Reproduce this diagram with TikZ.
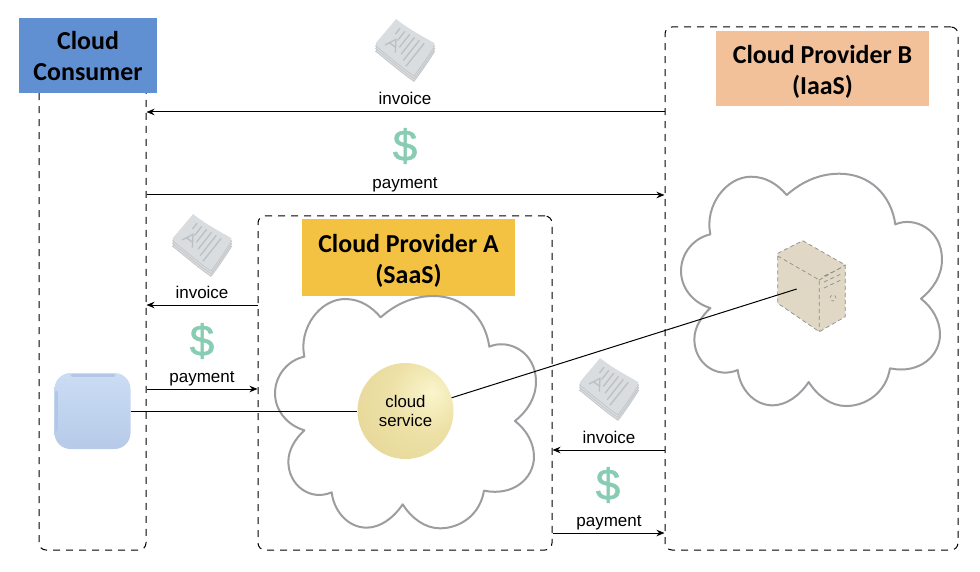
\documentclass[tikz,border=0pt]{standalone}
\usepackage{fontspec}
\setmainfont{Liberation Sans}
\newfontfamily\titlefont{Carlito}
\newfontfamily\dollarfont[FakeBold=1.2]{Liberation Sans}
\usetikzlibrary{arrows.meta}

\definecolor{consumerblue}{HTML}{6190D2}
\definecolor{providerorange}{HTML}{F2C099}
\definecolor{provideryellow}{HTML}{F4C242}
\definecolor{cloudgrey}{HTML}{9C9DA1}
\definecolor{dollargreen}{HTML}{88CDB3}
\definecolor{servertan}{HTML}{E0D8C4}
\definecolor{sheetgrey}{HTML}{DADDDF}
\definecolor{sheetedge}{HTML}{C4C8CB}
\definecolor{sheetink}{HTML}{BCC0C3}
\definecolor{devicetop}{HTML}{CBDDF4}
\definecolor{devicebottom}{HTML}{B6CAE9}
\definecolor{devicelip}{HTML}{B3C6E8}

\pgfdeclareradialshading{serviceball}{\pgfpoint{14bp}{10bp}}{
	rgb(0bp)=(0.98,0.96,0.80);
	rgb(20bp)=(0.93,0.88,0.65);
	rgb(50bp)=(0.89,0.83,0.57);
	rgb(100bp)=(0.88,0.81,0.54)}

\newcommand{\titledrop}[1]{\rule{0pt}{#1pt}}

\tikzset{
	lifeline/.style={draw=black,line width=1pt,dash pattern=on 7pt off 6pt,rounded corners=7pt,fill=none},
	titlebox/.style={font=\titlefont\bfseries\fontsize{25.9}{31}\selectfont,align=center,text=black,inner sep=0pt},
	msglabel/.style={font=\fontsize{17}{20}\selectfont,inner sep=0pt},
	dollar/.style={font=\dollarfont\fontsize{44}{44}\selectfont,text=dollargreen,inner sep=0pt},
	cloudshape/.pic={
		\draw[scale=0.3333,shift={(-450,-375)},cloudgrey,line width=2pt,fill=white,line join=round]
			(133,215) .. controls (115,130) and (180,42) .. (255,42) .. controls (300,42) and (335,65) .. (362,97)
			.. controls (415,50) and (470,33) .. (520,33) .. controls (610,33) and (675,95) .. (688,185)
			.. controls (745,160) and (828,200) .. (828,290) .. controls (828,340) and (800,380) .. (765,408)
			.. controls (800,435) and (822,475) .. (822,515) .. controls (822,580) and (760,635) .. (672,617)
			.. controls (660,690) and (600,730) .. (540,730) .. controls (495,730) and (455,700) .. (428,658)
			.. controls (400,700) and (360,728) .. (320,728) .. controls (265,728) and (222,680) .. (215,622)
			.. controls (150,650) and (85,600) .. (85,530) .. controls (85,495) and (105,462) .. (133,436)
			.. controls (80,420) and (45,375) .. (45,325) .. controls (45,270) and (85,225) .. (133,215) -- cycle;
	},
	invoicestack/.pic={
		\begin{scope}[scale=0.3333,shift={(-135,-120)}]
			\foreach \d in {24,16,8}
				\draw[sheetedge,fill=sheetgrey,line width=0.8pt,yshift=-\d pt] (47,100) .. controls (70,72) and (90,50) .. (108,27)
					.. controls (150,60) and (190,80) .. (224,100) .. controls (205,130) and (185,160) .. (162,190)
					.. controls (125,165) and (85,130) .. (47,100) -- cycle;
			\fill[sheetgrey] (47,100) .. controls (70,72) and (90,50) .. (108,27)
				.. controls (150,60) and (190,80) .. (224,100) .. controls (205,130) and (185,160) .. (162,190)
				.. controls (125,165) and (85,130) .. (47,100) -- cycle;
			\foreach \i/\l in {0/22,1/35,2/50,3/65,4/78,5/88}
				\draw[sheetink,line width=1.3pt] (120+\i*14.5,55+\i*9) -- ++(-0.62*\l,0.78*\l);
			\draw[sheetink,line width=1.3pt] (75,105) -- (108,88) -- (106,128) (88,98) -- (107,112);
		\end{scope}
	}
}

\begin{document}
\begin{tikzpicture}[x=1pt,y=-1pt]
		\useasboundingbox (0,0) rectangle (980,572);

		\begin{scope}[every node/.style={lifeline}]
		    \node[minimum width=107pt,minimum height=490pt] (consumer) at (92.5,305) {};
		    \node[minimum width=294pt,minimum height=334pt] (provA) at (405,383) {};
		    \node[minimum width=293pt,minimum height=523pt] (provB) at (811.5,288.5) {};
		\end{scope}

		\node[titlebox,fill=consumerblue,minimum width=138pt,minimum height=75pt] (consumerT) at (88,55.5) {\titledrop{19}Cloud\\Consumer};
		\node[titlebox,fill=providerorange,minimum width=213pt,minimum height=75pt] (provBT) at (822.5,68.5) {\titledrop{24}Cloud Provider B\\(IaaS)};
		\node[titlebox,fill=provideryellow,minimum width=213pt,minimum height=77pt] (provAT) at (408.5,257.5) {\titledrop{25}Cloud Provider A\\(SaaS)};

		\pic at (410,410) {cloudshape};
		\pic at (816,287.7) {cloudshape};

		\pic at (405,50) {invoicestack};
		\pic at (202,245) {invoicestack};
		\pic at (609,389) {invoicestack};

		\begin{scope}[every node/.style={dollar}]
		    \node (dollar1) at (405,146) {\$};
		    \node (dollar2) at (202,341) {\$};
		    \node (dollar3) at (608,485) {\$};
		\end{scope}

		\begin{scope}[every node/.style={msglabel}]
		    \node (invoice1) at (405,98) {invoice};
		    \node (payment1) at (405,185) {payment};
		    \node (invoice2) at (202,292) {invoice};
		    \node (payment2) at (202,379) {payment};
		    \node (invoice3) at (609,437) {invoice};
		    \node (payment3) at (609,523) {payment};
		\end{scope}

		\fill[servertan] (777.7,253.3) -- (802.7,240.7) -- (845.3,265) -- (845.3,316.7) -- (819.3,331.7) -- (777.7,303.3) -- cycle;
		\draw[black!45,line width=0.7pt,dash pattern=on 4pt off 3pt] (777.7,253.3) -- (802.7,240.7) -- (845.3,265) -- (845.3,316.7) -- (819.3,331.7) -- (777.7,303.3) -- cycle
			(777.7,256) -- (819.3,280) -- (819.3,331.7) (819.3,280) -- (845.3,265)
			(824,276) -- (841,268) (824,282) -- (841,274) (824,288) -- (841,280);
		\draw[black!45,line width=0.6pt,dashed] (833,298) circle (3pt);
		\coordinate (server) at (796.7,289);

		\node[rounded corners=16pt,minimum size=76pt,inner sep=0pt,top color=devicetop,bottom color=devicebottom] (device) at (92.5,411) {};
		\draw[devicelip,line width=3pt,line cap=round] (72,375.5) -- (114,375.5) (56.5,392) -- (56.5,430);
		\node[circle,minimum size=96pt,inner sep=0pt,shading=serviceball,align=center,font=\fontsize{16.8}{19.5}\selectfont] (service) at (405.5,411) {cloud\\service};

		\begin{scope}[>={Stealth[black,length=8pt,width=6.5pt]},line width=1pt]
		    \draw[->] (provB.west |- 0,112) -- (consumer.east |- 0,112);
		    \draw[->] (consumer.east |- 0,195) -- (provB.west |- 0,195);
		    \draw[->] (provA.west |- 0,305) -- (consumer.east |- 0,305);
		    \draw[->] (consumer.east |- 0,389) -- (provA.west |- 0,389);
		    \draw[->] (provB.west |- 0,450) -- (provA.east |- 0,450);
		    \draw[->] (provA.east |- 0,533) -- (provB.west |- 0,533);
		    \draw (device.east) -- (service.west);
		    \draw (service) ++(16:48pt) -- (server);
		\end{scope}
\end{tikzpicture}
\end{document}
